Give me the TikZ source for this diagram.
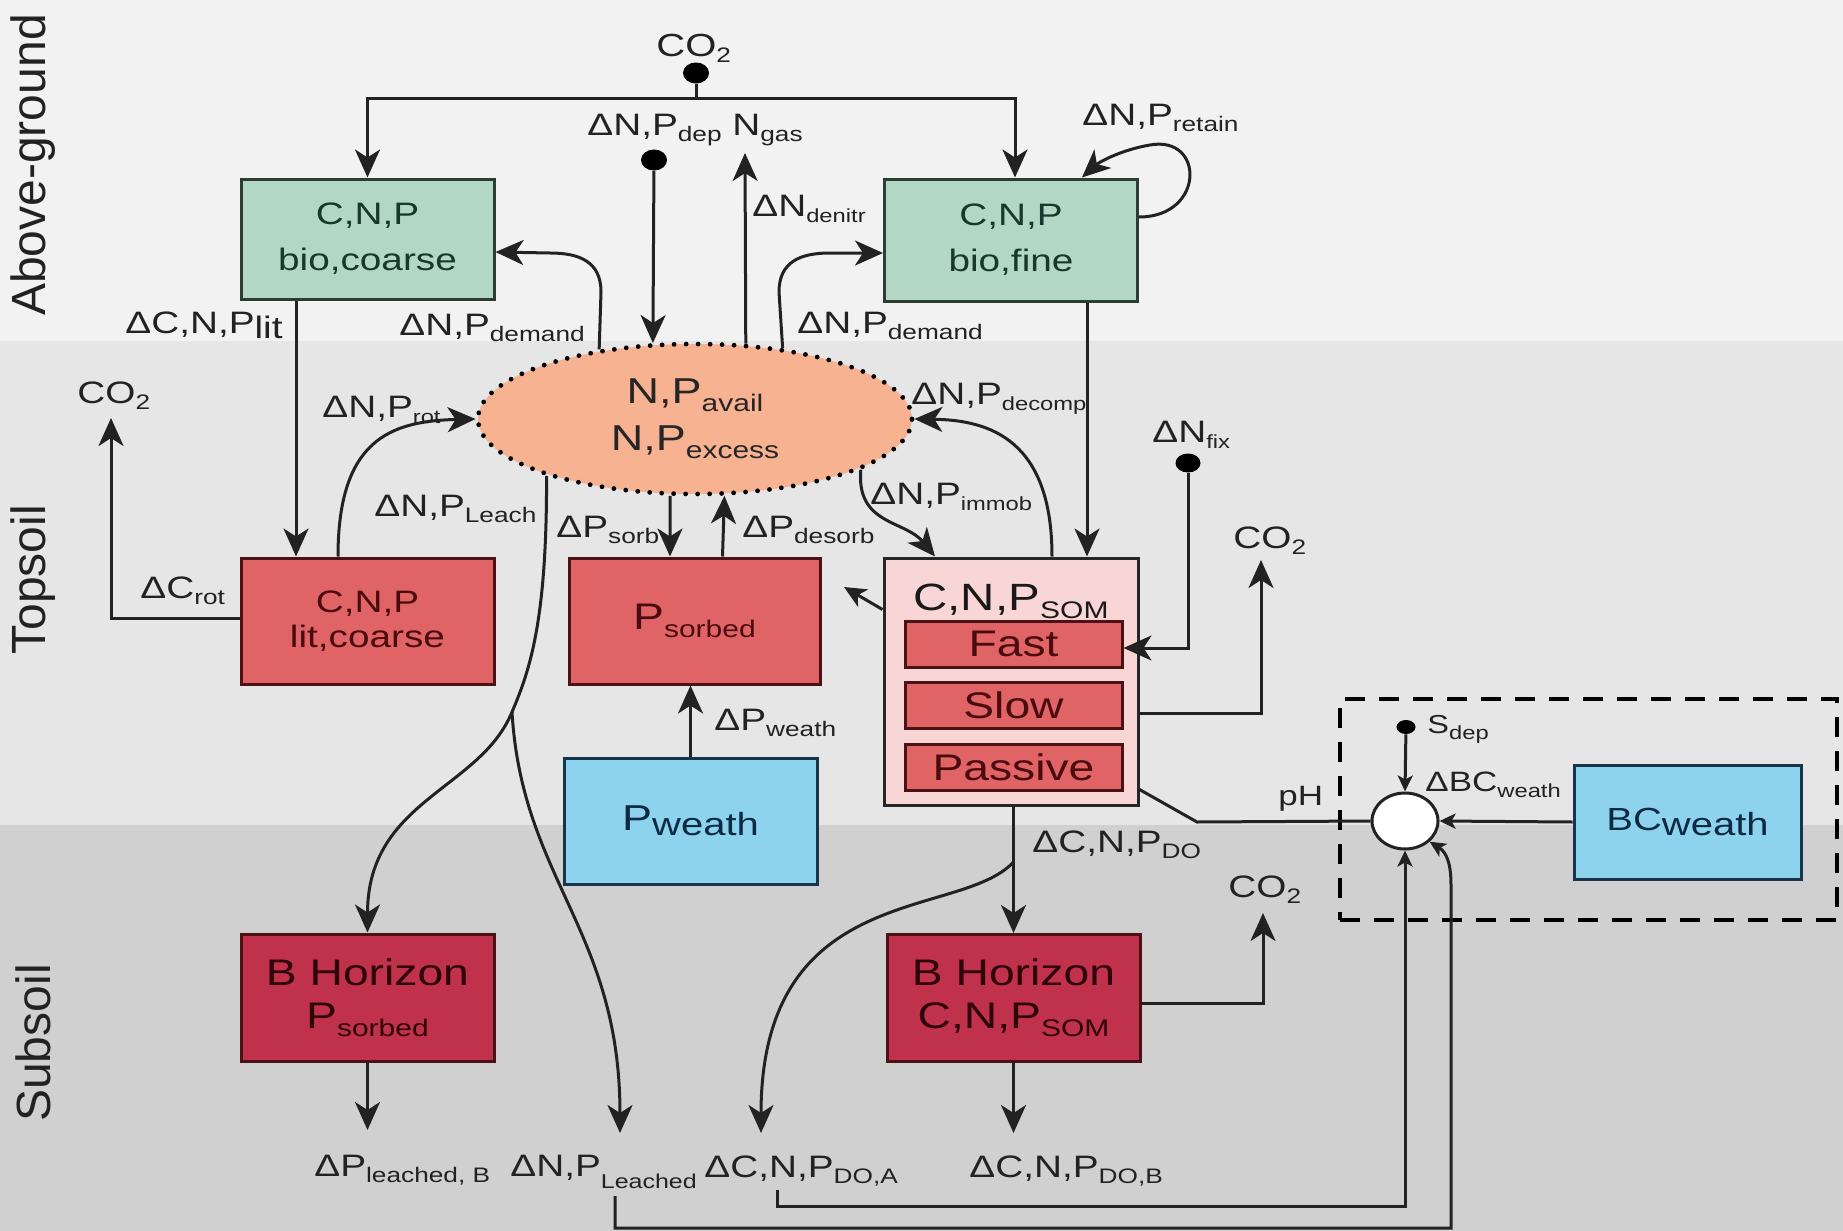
\documentclass[tikz,border=0pt]{standalone}
\usepackage{fontspec}
\setmainfont{Liberation Sans}[FakeStretch=1.25]
\newfontfamily\sidefont{Liberation Sans}
\usetikzlibrary{arrows.meta,shapes.geometric,calc}

\definecolor{bgA}{HTML}{F2F2F2}
\definecolor{bgB}{HTML}{E6E6E6}
\definecolor{bgC}{HTML}{D0D0D0}
\definecolor{grn}{HTML}{B2D8C5}
\definecolor{grnB}{HTML}{2C3D34}
\definecolor{grnT}{HTML}{17382A}
\definecolor{redA}{HTML}{E06366}
\definecolor{redB}{HTML}{4A1214}
\definecolor{redT}{HTML}{4A0B0E}
\definecolor{pinkA}{HTML}{F9D6D6}
\definecolor{crim}{HTML}{C0324B}
\definecolor{crimT}{HTML}{2E0309}
\definecolor{blu}{HTML}{8DD3EE}
\definecolor{bluB}{HTML}{17344A}
\definecolor{bluT}{HTML}{0C2A44}
\definecolor{salm}{HTML}{F7B292}
\definecolor{lin}{HTML}{222222}

\newcommand{\sbs}[1]{\raisebox{-3pt}{\fontsize{10.5pt}{12pt}\selectfont #1}}
\newcommand{\sbn}[1]{\raisebox{-3pt}{\fontsize{9.5pt}{11pt}\selectfont #1}}
\newcommand{\sbl}[1]{\raisebox{-4pt}{\fontsize{12pt}{14pt}\selectfont #1}}
\newcommand{\sbw}[1]{\raisebox{-2.5pt}{\fontsize{16pt}{18pt}\selectfont #1}}

\begin{document}
\begin{tikzpicture}[x=0.5pt,y=-0.5pt,
  lab/.style={anchor=base west, inner sep=0pt, text=lin, font=\fontsize{15.5pt}{18pt}\selectfont},
  gbox/.style={rectangle, draw=grnB, fill=grn, line width=1.5pt, text=grnT, align=center, inner sep=0pt,
     minimum width=126.5pt, minimum height=60pt, font=\fontsize{15.5pt}{23pt}\selectfont},
  rbox/.style={rectangle, draw=redB, fill=redA, line width=1.5pt, text=redT, align=center, inner sep=0pt,
     minimum width=126.5pt, minimum height=63pt, font=\fontsize{15.5pt}{17.5pt}\selectfont},
  sbox/.style={rectangle, draw=redB, fill=redA, line width=1.5pt, text=redT, inner sep=0pt,
     minimum width=108.5pt, minimum height=23pt, font=\fontsize{18.5pt}{20pt}\selectfont},
  cbox/.style={rectangle, draw=redB, fill=crim, line width=1.5pt, text=crimT, align=center, inner sep=0pt,
     minimum width=126.5pt, minimum height=63.5pt, font=\fontsize{18.5pt}{21.5pt}\selectfont},
  bbox/.style={rectangle, draw=bluB, fill=blu, line width=1.5pt, text=bluT, align=center, inner sep=0pt,
     minimum width=126.5pt, minimum height=63pt, font=\fontsize{18pt}{20pt}\selectfont},
  dotn/.style={ellipse, fill=black, minimum width=13pt, minimum height=10.5pt, inner sep=0pt},
  ln/.style={draw=lin, line width=1.5pt},
  arr/.style={draw=lin, line width=1.5pt, -{Stealth[length=14pt,width=12.5pt,inset=4pt]}},
  arrm/.style={draw=lin, line width=1.5pt, -{Stealth[length=11pt,width=10pt,inset=3pt]}},
  arrs/.style={draw=lin, line width=1.5pt, -{Stealth[length=8pt,width=7.5pt,inset=2pt]}},
  side/.style={rotate=90, text=lin, inner sep=0pt, font=\sidefont\fontsize{24pt}{26pt}\selectfont}
]
\useasboundingbox (0,0) rectangle (1843,1231);
\fill[bgA] (0,0) rectangle (1843,341);
\fill[bgB] (0,341) rectangle (1843,825);
\fill[bgC] (0,825) rectangle (1843,1231);

% side labels
\node[side] (sAbove) at (33,165) {Above-ground};
\node[side] (sTop) at (33,580) {Topsoil};
\node[side] (sSub) at (33,1043) {Subsoil};

% dashed region
\node[draw=black, line width=2pt, dash pattern=on 10pt off 7pt, minimum width=248.5pt, minimum height=110.5pt, inner sep=0pt] (dbox) at (1588.5,809.5) {};

% boxes
\node[gbox] (bioC) at (367.5,239) {C,N,P\\bio,coarse};
\node[gbox, minimum height=61pt] (bioF) at (1011,240) {C,N,P\\bio,fine};
\node[rbox] (litC) at (367.5,621) {C,N,P\\lit,coarse};
\node[rbox, font=\fontsize{18.5pt}{22pt}\selectfont, minimum width=125.5pt] (Psorb) at (694.5,621) {P\sbl{sorbed}};
\node[rectangle, draw=black!85, fill=pinkA, line width=1.5pt, minimum width=127pt, minimum height=123.5pt, inner sep=0pt] (SOM) at (1011,681.5) {};
\node[anchor=base, inner sep=0pt, text=black!90, font=\fontsize{19pt}{21pt}\selectfont] (somT) at (1011,610) {C,N,P\sbl{SOM}};
\node[sbox] (Fast) at (1013.5,644) {Fast};
\node[sbox] (Slow) at (1013.5,705) {Slow};
\node[sbox] (Pass) at (1013.5,767) {Passive};
\node[bbox] (Pw) at (690.5,821) {P\sbw{weath}};
\node[cbox] (BHP) at (367.5,997.5) {B Horizon\\P\sbl{sorbed}};
\node[cbox] (BHC) at (1013.5,998) {B Horizon\\C,N,P\sbl{SOM}};
\node[bbox, minimum width=113.5pt, minimum height=57pt, font=\fontsize{16pt}{18pt}\selectfont] (BCw) at (1687.5,822) {BC\sbw{weath}};
\node[ellipse, draw=lin, fill=white, line width=1.5pt, minimum width=33pt, minimum height=28pt, inner sep=0pt] (circ) at (1405,821) {};
\node[ellipse, fill=salm, draw=black, line width=2.4pt, dash pattern=on 0pt off 6pt, line cap=round,
      minimum width=217pt, minimum height=75pt, inner sep=0pt, align=center, text=black!85,
      font=\fontsize{18pt}{23.5pt}\selectfont] (ell) at (695,419) {N,P\sbl{avail}\\N,P\sbl{excess}};

% dots
\node[dotn] (dco2) at (696,73) {};
\node[dotn] (ddep) at (654,160) {};
\node[dotn, minimum width=12.5pt, minimum height=9.5pt] (dfix) at (1188,463) {};
\node[dotn, minimum width=9.5pt, minimum height=7pt] (dS) at (1406,727) {};

% coordinates
\coordinate (jco2) at (696,98);
\coordinate (ngas) at (745,153);
\coordinate (co2a) at (111,418);
\coordinate (co2b) at (1261,560);
\coordinate (co2c) at (1263,913);
\coordinate (somP) at (844,587);
\coordinate (lsplit) at (512,712);
\coordinate (lTip) at (620,1133);
\coordinate (pB) at (367.5,1130);
\coordinate (dosplit) at (1013.5,862);
\coordinate (doA) at (761,1133);
\coordinate (doB) at (1013.5,1133);
\coordinate (bA) at (777,1190);
\coordinate (bL) at (615,1196);

% connectors, above-ground
\draw[ln] (dco2) -- (jco2);
\draw[arr] (jco2) -| (bioC.north);
\draw[arr] (jco2) -| ([xshift=2pt]bioF.north);
\draw[arr] (ddep) -- (ell.119);
\draw[arr] (ell.56) -- (ngas);
\draw[arr] (ell.39.5) -- (779,292) .. controls (779,262) and (800,253) .. (830,253) -- ([yshift=-6.5pt]bioF.west);
\draw[arr] (ell.144.3) -- (601,292) .. controls (601,262) and (580,253) .. (550,253) -- ([yshift=-6.5pt]bioC.east);
\draw[arr] ([yshift=11.5pt]bioF.east) .. controls (1205,217) and (1205,135) .. (1150,145) .. controls (1120,150) and (1098,163) .. ([xshift=35.5pt]bioF.north);
\draw[arr] ([xshift=-35.75pt]bioC.south) -- ([xshift=-35.75pt]litC.north);
\draw[arr] ([xshift=38pt]bioF.south) -- ([xshift=38pt]SOM.north);

% topsoil
\draw[arr] ([yshift=1.5pt]litC.west) -| (co2a);
\draw[arr] ([xshift=-14.75pt]litC.north) .. controls (338,440) and (390,421) .. (ell.west);
\draw[arr] ([xshift=20.5pt]SOM.north) .. controls (1052,440) and (990,420) .. (ell.east);
\draw[arr] (ell.-17.3) .. controls (856,525) and (905,520) .. ([xshift=-38pt]SOM.north);
\draw[arr] (ell.-108.5) -- ([xshift=-12.25pt]Psorb.north);
\draw[arr] ([xshift=14pt]Psorb.north) -- (ell.-69.7);
\draw[arrm] ([yshift=36pt]SOM.west) -- (somP);
\draw[arr] (Pw.north) -- (Pw.north |- Psorb.south);
\draw[arr] (dfix) |- ([yshift=-2pt]Fast.east);
\draw[arr] ([yshift=-15.75pt]SOM.east) -| (co2b);
\draw[arr] (ell.-159.7) .. controls (547,620) and (530,670) .. (lsplit) .. controls (480,790) and (367.5,800) .. (BHP.north);
\draw[arr] (lsplit) .. controls (522,880) and (620,930) .. (lTip);

% pH group
\draw[ln] ([yshift=-54pt]SOM.east) -- (1197,822) -- (circ.west);
\draw[arrs] (dS) -- (circ.north);
\draw[arrs] (BCw.west) -- (circ.east);
\draw[arrs] (bA) -- (777,1206) -| (circ.south);
\draw[arrs] (bL) -- (615,1228) -| (1451,885) .. controls (1451,862) and (1446,852) .. (circ.-40);

% subsoil
\draw[arr] (SOM.south -| BHC.north) -- (BHC.north);
\draw[arr] (dosplit) .. controls (960,920) and (761,880) .. (doA);
\draw[arr] (BHC.south) -- (doB);
\draw[arr] ([yshift=-2.5pt]BHC.east) -| (co2c);
\draw[arr] (BHP.south) -- (pB);

% labels
\node[lab, font=\fontsize{16pt}{18pt}\selectfont] (tCO2a) at (656,56) {CO\sbs{2}};
\node[lab] (tdep) at (587,135) {ΔN,P\sbs{dep}};
\node[lab] (tgas) at (732,135) {N\sbs{gas}};
\node[lab] (tden) at (752,216) {ΔN\sbn{denitr}};
\node[lab] (tret) at (1082,125) {ΔN,P\sbs{retain}};
\node[lab] (tdemL) at (399,335) {ΔN,P\sbs{demand}};
\node[lab] (tdemR) at (797,333) {ΔN,P\sbs{demand}};
\node[lab] (tlit) at (125,333) {ΔC,N,P\raisebox{-2.5pt}{lit}};
\node[lab] (tCO2b) at (77,403) {CO\sbs{2}};
\node[lab] (trot) at (322,417) {ΔN,P\sbn{rot}};
\node[lab] (tleach) at (374,516) {ΔN,P\sbs{Leach}};
\node[lab] (tCrot) at (140,598) {ΔC\sbs{rot}};
\node[lab] (tsorb) at (556,537) {ΔP\sbs{sorb}};
\node[lab] (tdes) at (742,537) {ΔP\sbs{desorb}};
\node[lab] (tdec) at (911,404) {ΔN,P\sbn{decomp}};
\node[lab] (timm) at (870,504) {ΔN,P\sbn{immob}};
\node[lab] (tfix) at (1152,442) {ΔN\sbn{fix}};
\node[lab] (tCO2c) at (1233,548) {CO\sbs{2}};
\node[lab] (tpw) at (714,730) {ΔP\sbs{weath}};
\node[lab, font=\fontsize{14pt}{16pt}\selectfont] (tpH) at (1278,805) {pH};
\node[lab, font=\fontsize{13pt}{15pt}\selectfont] (tSdep) at (1427,733) {S\raisebox{-3pt}{\fontsize{9.5pt}{11pt}\selectfont dep}};
\node[lab, font=\fontsize{14pt}{16pt}\selectfont] (tdBC) at (1425,791) {ΔBC\raisebox{-3pt}{\fontsize{9.5pt}{11pt}\selectfont weath}};
\node[lab] (tDO) at (1032,852) {ΔC,N,P\sbs{DO}};
\node[lab] (tCO2d) at (1228,897) {CO\sbs{2}};
\node[lab] (tPlB) at (314,1176) {ΔP\sbs{leached, B}};
\node[lab] (tNPL) at (510,1176) {ΔN,P\raisebox{-6pt}{\fontsize{10pt}{12pt}\selectfont Leached}};
\node[lab] (tDOA) at (704,1177) {ΔC,N,P\sbs{DO,A}};
\node[lab] (tDOB) at (969,1177) {ΔC,N,P\sbs{DO,B}};
\end{tikzpicture}
\end{document}
